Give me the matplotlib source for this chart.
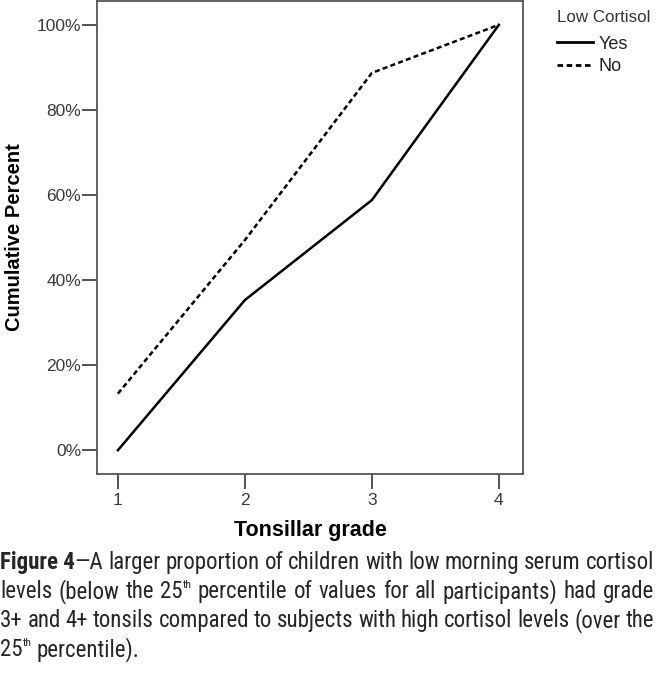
import matplotlib
matplotlib.use('Agg')
import matplotlib.pyplot as plt
from matplotlib import font_manager

# data
grades = [1, 2, 3, 4]
yes_cum = [0.0, 35.3, 58.8, 100.0]
no_cum = [13.3, 49.4, 88.7, 100.0]
y_ticks = [0, 20, 40, 60, 80, 100]
y_tick_labels = ["0%", "20%", "40%", "60%", "80%", "100%"]

# the caption is set in a narrow face; use one if there is one
names = set(f.name for f in font_manager.fontManager.ttflist)
narrow = 'Liberation Sans'
for cand in ['Liberation Sans Narrow', 'Arial Narrow', 'Roboto Condensed']:
    if cand in names:
        narrow = cand
        break
cap_fs = {'Roboto Condensed': 16.5, 'Liberation Sans': 14.6}.get(narrow, 15.8)

plt.rcParams['font.family'] = ['Liberation Sans', 'DejaVu Sans']

fig = plt.figure(figsize=(6.56, 6.81), dpi=100)
W, H = 656, 681
ax = fig.add_axes([97 / W, 1 - 474 / H, (523 - 97) / W, 473 / H])

ax.plot(grades, yes_cum, color='black', linewidth=1.8, label='Yes')
ax.plot(grades, no_cum, color='black', linewidth=1.8, linestyle=(0, (2.0, 1.3)), label='No')

ax.set_xlim(0.835, 4.19)
ax.set_ylim(-5.6, 105.6)
ax.set_xticks(grades)
ax.set_xticklabels([str(g) for g in grades])
ax.set_yticks(y_ticks)
ax.set_yticklabels(y_tick_labels)
for lab in ax.get_xticklabels() + ax.get_yticklabels():
    lab.set_fontsize(12.5)
    lab.set_color('#3a3a3a')
ax.tick_params(axis='y', length=10.5, width=1.3, color='#444444', pad=1)
ax.tick_params(axis='x', length=11, width=1.3, color='#444444', pad=3)
for s in ax.spines.values():
    s.set_linewidth(1.3)
    s.set_color('#555555')

ax.set_xlabel("Tonsillar grade", fontsize=15.5, fontweight='bold', labelpad=8)
ax.set_ylabel("Cumulative Percent", fontsize=14.5, fontweight='bold', labelpad=9)

leg = ax.legend(title='Low Cortisol', loc='upper left', bbox_to_anchor=(1.062, 0.997),
                frameon=False, handlelength=2.0, handletextpad=0.3,
                borderaxespad=0, labelspacing=0.3, fontsize=13, title_fontsize=12.2)
leg._legend_box.align = 'left'
leg._legend_box.sep = 8
for t in leg.get_texts():
    t.set_color('#222222')
leg.get_title().set_color('#333333')
for h in leg.legend_handles:
    h.set_linewidth(2)

# caption, justified by hand
caption = [
    [[("Figure 4", 'bold'), ("\u2014A", 'normal')], [("larger", 'normal')], [("proportion", 'normal')],
     [("of", 'normal')], [("children", 'normal')], [("with", 'normal')], [("low", 'normal')],
     [("morning", 'normal')], [("serum", 'normal')], [("cortisol", 'normal')]],
    [[("levels", 'normal')], [("(below", 'normal')], [("the", 'normal')], [("25", 'normal'), ("th", 'sup')],
     [("percentile", 'normal')], [("of", 'normal')], [("values", 'normal')], [("for", 'normal')],
     [("all", 'normal')], [("participants)", 'normal')], [("had", 'normal')], [("grade", 'normal')]],
    [[("3+", 'normal')], [("and", 'normal')], [("4+", 'normal')], [("tonsils", 'normal')],
     [("compared", 'normal')], [("to", 'normal')], [("subjects", 'normal')], [("with", 'normal')],
     [("high", 'normal')], [("cortisol", 'normal')], [("levels", 'normal')], [("(over", 'normal')],
     [("the", 'normal')]],
    [[("25", 'normal'), ("th", 'sup')], [("percentile).", 'normal')]],
]
line_y = [569, 598, 627, 656]
renderer = fig.canvas.get_renderer()


def piece_text(x, y, txt, style):
    kw = dict(fontsize=cap_fs, family=narrow, color='#262626', va='baseline', ha='left')
    if style == 'bold':
        kw['fontweight'] = 'bold'
    if style == 'sup':
        kw['fontsize'] = cap_fs * 0.5
        y = y - 10
    return fig.text(x / W, 1 - y / H, txt, **kw)


def word_width(word):
    total = 0
    for txt, style in word:
        t = piece_text(0, 0, txt, style)
        total += t.get_window_extent(renderer).width
        t.remove()
    return total


space = word_width([(" a", 'normal')]) - word_width([("a", 'normal')])
for i, (line, y) in enumerate(zip(caption, line_y)):
    widths = [word_width(w) for w in line]
    if i < len(caption) - 1:
        gap = (W - 2 - sum(widths)) / (len(line) - 1)
    else:
        gap = space
    x = 0
    for w, ww in zip(line, widths):
        px = x
        for txt, style in w:
            t = piece_text(px, y, txt, style)
            px += t.get_window_extent(renderer).width
        x += ww + gap

fig.savefig("out.png", dpi=100)
